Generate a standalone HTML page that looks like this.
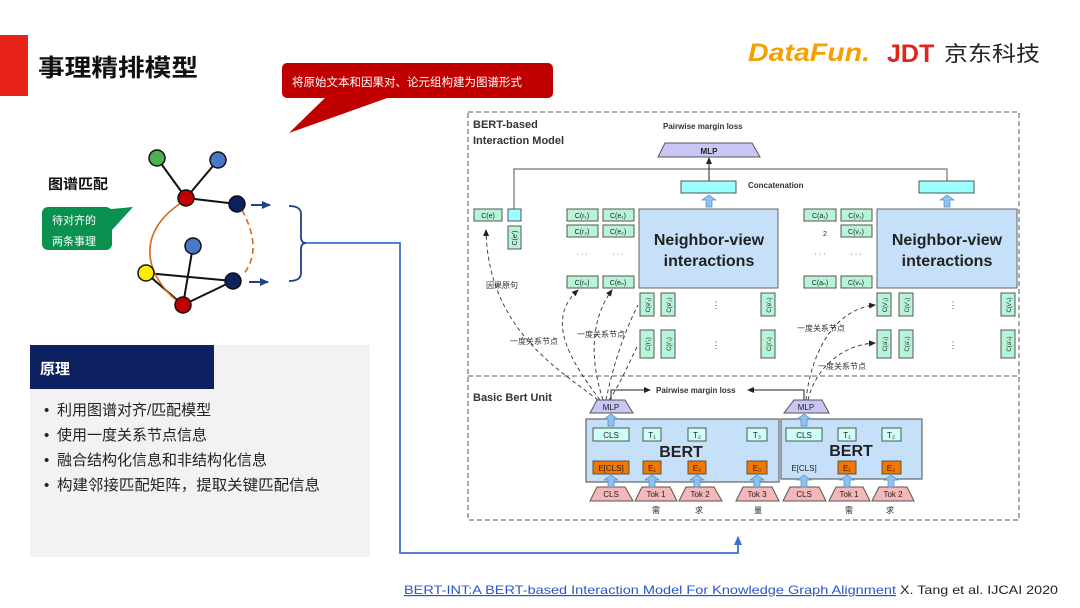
<!DOCTYPE html>
<html><head><meta charset="utf-8">
<style>
html,body{margin:0;padding:0;background:#fff;}
svg{display:block;font-family:"Liberation Sans","Noto Sans CJK SC",sans-serif;}
</style></head><body>
<svg width="1080" height="608" viewBox="0 0 1080 608" xmlns="http://www.w3.org/2000/svg">
<defs>
<marker id="ah" markerWidth="8" markerHeight="8" refX="6" refY="4" orient="auto" markerUnits="userSpaceOnUse"><path d="M0,1 L7,4 L0,7 z" fill="#222"/></marker>
<marker id="bh" markerWidth="10" markerHeight="10" refX="8" refY="5" orient="auto" markerUnits="userSpaceOnUse"><path d="M0,1 L9,5 L0,9 z" fill="#1f3f8f"/></marker>
<marker id="lh" markerWidth="10" markerHeight="10" refX="8" refY="5" orient="auto" markerUnits="userSpaceOnUse"><path d="M0,1 L9,5 L0,9 z" fill="#3d6fd0"/></marker>
<g id="barr"><path d="M-3,12 L-3,5 L-7,5 L0,0 L7,5 L3,5 L3,12 z" fill="#8ec2f0" stroke="#5588bb" stroke-width="0.7"/></g>
</defs>

<!-- title -->
<rect x="0" y="35" width="28" height="61" fill="#e8231c"/>
<text x="38" y="76" font-size="24" font-weight="bold" fill="#111" textLength="160" lengthAdjust="spacingAndGlyphs">事理精排模型</text>

<!-- red callout -->
<rect x="282" y="63" width="271" height="35" rx="5" fill="#c00000"/>
<polygon points="327,96 393,96 289,133" fill="#c00000"/>
<text x="292" y="86" font-size="11.5" fill="#fff">将原始文本和因果对、论元组构建为图谱形式</text>

<!-- logos -->
<text x="748" y="61" font-size="25" font-weight="bold" font-style="italic" fill="#f5a000" textLength="122" lengthAdjust="spacingAndGlyphs">DataFun.</text>
<text x="887" y="62" font-size="25" font-weight="bold" fill="#e1251b">JDT</text>
<text x="944" y="61" font-size="21" fill="#222" textLength="96" lengthAdjust="spacingAndGlyphs">京东科技</text>

<!-- graph -->
<text x="48" y="189" font-size="14" font-weight="bold" fill="#111" textLength="60" lengthAdjust="spacingAndGlyphs">图谱匹配</text>
<rect x="42" y="207" width="70" height="43" rx="6" fill="#0a9150"/>
<polygon points="100,210 112,230 133,207" fill="#0a9150"/>
<text x="52" y="224" font-size="11" fill="#fff">待对齐的</text>
<text x="52" y="245" font-size="11" fill="#fff">两条事理</text>

<g stroke="#111" stroke-width="2">
<line x1="157" y1="158" x2="186" y2="198"/>
<line x1="218" y1="160" x2="186" y2="198"/>
<line x1="186" y1="198" x2="237" y2="204"/>
<line x1="193" y1="246" x2="183" y2="305"/>
<line x1="146" y1="273" x2="233" y2="281"/>
<line x1="146" y1="273" x2="183" y2="305"/>
<line x1="233" y1="281" x2="183" y2="305"/>
</g>
<path d="M181,203 C140,230 140,270 178,302" fill="none" stroke="#d46a1a" stroke-width="1.6"/>
<path d="M242,210 C258,240 255,260 243,275" fill="none" stroke="#d46a1a" stroke-width="1.6" stroke-dasharray="6,4"/>
<g stroke="#111" stroke-width="1.5">
<circle cx="157" cy="158" r="8" fill="#4caf50"/>
<circle cx="218" cy="160" r="8" fill="#4a78c8"/>
<circle cx="186" cy="198" r="8" fill="#c00000"/>
<circle cx="237" cy="204" r="8" fill="#0d2060"/>
<circle cx="193" cy="246" r="8" fill="#4a78c8"/>
<circle cx="146" cy="273" r="8" fill="#ffee00"/>
<circle cx="233" cy="281" r="8" fill="#0d2060"/>
<circle cx="183" cy="305" r="8" fill="#c00000"/>
</g>
<line x1="251" y1="205" x2="270" y2="205" stroke="#1f3f8f" stroke-width="2" marker-end="url(#bh)"/>
<line x1="249" y1="282" x2="268" y2="282" stroke="#1f3f8f" stroke-width="2" marker-end="url(#bh)"/>
<path d="M289,206 Q301,206 301,214 L301,237 Q301,243 306,243 Q301,243 301,249 L301,273 Q301,281 289,281" fill="none" stroke="#1f3f8f" stroke-width="1.8"/>
<polyline points="306,243 400,243 400,553 738,553 738,537" fill="none" stroke="#3d6fd0" stroke-width="1.8" marker-end="url(#lh)"/>

<!-- left principle box -->
<rect x="30" y="345" width="340" height="212" fill="#f2f2f2"/>
<rect x="30" y="345" width="184" height="44" fill="#0d2060"/>
<text x="40" y="374" font-size="15" font-weight="bold" fill="#fff">原理</text>
<g font-size="15" fill="#222">
<text x="44" y="415">•</text><text x="57" y="415">利用图谱对齐/匹配模型</text>
<text x="44" y="440">•</text><text x="57" y="440">使用一度关系节点信息</text>
<text x="44" y="465">•</text><text x="57" y="465">融合结构化信息和非结构化信息</text>
<text x="44" y="490">•</text><text x="57" y="490" textLength="263" lengthAdjust="spacingAndGlyphs">构建邻接匹配矩阵，提取关键匹配信息</text>
</g>

<!-- diagram frame -->
<rect x="468" y="112" width="551" height="408" fill="none" stroke="#555" stroke-dasharray="5,3" stroke-width="1"/>
<line x1="468" y1="376" x2="1019" y2="376" stroke="#555" stroke-dasharray="5,3"/>
<text x="473" y="128" font-size="11" font-weight="bold" fill="#333">BERT-based</text>
<text x="473" y="144" font-size="11" font-weight="bold" fill="#333">Interaction Model</text>
<text x="663" y="129" font-size="8" font-weight="bold" fill="#333">Pairwise margin loss</text>
<polygon points="665,143 752,143 760,157 658,157" fill="#c9c6f5" stroke="#555"/>
<text x="709" y="154" font-size="8" font-weight="bold" text-anchor="middle" fill="#222">MLP</text>
<polyline points="514,209 514,169 947,169 947,181" fill="none" stroke="#555"/>
<line x1="709" y1="181" x2="709" y2="158" stroke="#222" marker-end="url(#ah)"/>
<rect x="681" y="181" width="55" height="12" fill="#99ffff" stroke="#555"/>
<rect x="919" y="181" width="55" height="12" fill="#99ffff" stroke="#555"/>
<text x="748" y="188" font-size="8" font-weight="bold" fill="#333">Concatenation</text>
<use href="#barr" x="709" y="195"/>
<use href="#barr" x="947" y="195"/>

<g font-size="7" fill="#222" text-anchor="middle">
<rect x="474" y="209" width="28" height="12" fill="#b8f5d8" stroke="#555"/><text x="488" y="218">C(e)</text>
<rect x="508" y="209" width="13" height="12" fill="#99ffff" stroke="#555"/>
<rect x="508" y="226" width="13" height="23" fill="#b8f5d8" stroke="#555"/><text transform="translate(517,238) rotate(-90)">C(e')</text>

<rect x="567" y="209" width="31" height="12" fill="#b8f5d8" stroke="#555"/><text x="582" y="218">C(r₁)</text>
<rect x="603" y="209" width="31" height="12" fill="#b8f5d8" stroke="#555"/><text x="618" y="218">C(e₁)</text>
<rect x="567" y="225" width="31" height="12" fill="#b8f5d8" stroke="#555"/><text x="582" y="234">C(r₂)</text>
<rect x="603" y="225" width="31" height="12" fill="#b8f5d8" stroke="#555"/><text x="618" y="234">C(e₂)</text>
<text x="582" y="256">· · ·</text><text x="618" y="256">· · ·</text>
<rect x="567" y="276" width="31" height="12" fill="#b8f5d8" stroke="#555"/><text x="582" y="285">C(rₙ)</text>
<rect x="603" y="276" width="31" height="12" fill="#b8f5d8" stroke="#555"/><text x="618" y="285">C(eₙ)</text>

<rect x="804" y="209" width="32" height="12" fill="#b8f5d8" stroke="#555"/><text x="820" y="218">C(a₁)</text>
<rect x="841" y="209" width="31" height="12" fill="#b8f5d8" stroke="#555"/><text x="856" y="218">C(v₁)</text>
<text x="825" y="236">2</text>
<rect x="841" y="225" width="31" height="12" fill="#b8f5d8" stroke="#555"/><text x="856" y="234">C(v₂)</text>
<text x="820" y="256">· · ·</text><text x="856" y="256">· · ·</text>
<rect x="804" y="276" width="32" height="12" fill="#b8f5d8" stroke="#555"/><text x="820" y="285">C(aₙ)</text>
<rect x="841" y="276" width="31" height="12" fill="#b8f5d8" stroke="#555"/><text x="856" y="285">C(vₙ)</text>
</g>

<rect x="639" y="209" width="139" height="79" fill="#c5e0f8" stroke="#666"/>
<text x="709" y="245" font-size="16" font-weight="bold" text-anchor="middle" fill="#222">Neighbor-view</text>
<text x="709" y="266" font-size="16" font-weight="bold" text-anchor="middle" fill="#222">interactions</text>
<rect x="877" y="209" width="140" height="79" fill="#c5e0f8" stroke="#666"/>
<text x="947" y="245" font-size="16" font-weight="bold" text-anchor="middle" fill="#222">Neighbor-view</text>
<text x="947" y="266" font-size="16" font-weight="bold" text-anchor="middle" fill="#222">interactions</text>

<g fill="#b8f5d8" stroke="#555">
<rect x="640" y="293" width="14" height="23"/><rect x="661" y="293" width="14" height="23"/><rect x="761" y="293" width="14" height="23"/>
<rect x="640" y="330" width="14" height="28"/><rect x="661" y="330" width="14" height="28"/><rect x="761" y="330" width="14" height="28"/>
<rect x="877" y="293" width="14" height="23"/><rect x="899" y="293" width="14" height="23"/><rect x="1001" y="293" width="14" height="23"/>
<rect x="877" y="330" width="14" height="28"/><rect x="899" y="330" width="14" height="28"/><rect x="1001" y="330" width="14" height="28"/>
</g>
<g font-size="6" fill="#222" text-anchor="middle">
<text transform="translate(650,305) rotate(-90)">C(e'₁)</text><text transform="translate(671,305) rotate(-90)">C(e'₂)</text><text transform="translate(771,305) rotate(-90)">C(e'ₙ)</text>
<text transform="translate(650,344) rotate(-90)">C(r'₁)</text><text transform="translate(671,344) rotate(-90)">C(r'₂)</text><text transform="translate(771,344) rotate(-90)">C(r'ₙ)</text>
<text transform="translate(887,305) rotate(-90)">C(v'₁)</text><text transform="translate(909,305) rotate(-90)">C(v'₂)</text><text transform="translate(1011,305) rotate(-90)">C(v'ₙ)</text>
<text transform="translate(887,344) rotate(-90)">C(a'₁)</text><text transform="translate(909,344) rotate(-90)">C(a'₂)</text><text transform="translate(1011,344) rotate(-90)">C(a'ₙ)</text>
</g>
<g font-size="9" fill="#444" text-anchor="middle">
<text x="716" y="308">⋮</text><text x="716" y="348">⋮</text><text x="953" y="308">⋮</text><text x="953" y="348">⋮</text>
</g>

<g font-size="8" fill="#333">
<text x="486" y="288">因果原句</text>
<text x="510" y="344">一度关系节点</text>
<text x="577" y="337">一度关系节点</text>
<text x="797" y="331">一度关系节点</text>
<text x="818" y="369">一度关系节点</text>
</g>
<g fill="none" stroke="#333" stroke-dasharray="4,3" stroke-width="0.9">
<path d="M598,400 C560,370 488,330 486,230" marker-end="url(#ah)"/>
<path d="M600,400 C570,360 545,320 578,290" marker-end="url(#ah)"/>
<path d="M603,400 C590,360 590,320 612,290" marker-end="url(#ah)"/>
<path d="M606,400 C610,380 620,340 638,305"/>
<path d="M609,400 C620,385 630,360 638,345"/>
<path d="M806,400 C810,360 830,310 875,305" marker-end="url(#ah)"/>
<path d="M808,400 C815,370 840,345 875,343" marker-end="url(#ah)"/>
</g>

<!-- Basic Bert Unit -->
<text x="473" y="401" font-size="11" font-weight="bold" fill="#333">Basic Bert Unit</text>
<polyline points="611,400 611,390 650,390" fill="none" stroke="#222" marker-end="url(#ah)"/>
<text x="656" y="393" font-size="8" font-weight="bold" fill="#333">Pairwise margin loss</text>
<polyline points="804,400 804,390 748,390" fill="none" stroke="#222" marker-end="url(#ah)"/>
<polygon points="597,400 625,400 633,413 590,413" fill="#c9c6f5" stroke="#555"/>
<text x="611" y="410" font-size="8" text-anchor="middle" fill="#222">MLP</text>
<polygon points="794,400 822,400 829,413 784,413" fill="#c9c6f5" stroke="#555"/>
<text x="806" y="410" font-size="8" text-anchor="middle" fill="#222">MLP</text>

<rect x="586" y="419" width="193" height="63" fill="#c5e0f8" stroke="#666" stroke-width="1.2"/>
<rect x="781" y="419" width="141" height="60" fill="#c5e0f8" stroke="#666" stroke-width="1.2"/>
<text x="681" y="457" font-size="16" font-weight="bold" text-anchor="middle" fill="#222">BERT</text>
<text x="851" y="456" font-size="16" font-weight="bold" text-anchor="middle" fill="#222">BERT</text>

<g font-size="8" fill="#222" text-anchor="middle">
<rect x="593" y="428" width="36" height="13" fill="#ccfff5" stroke="#555"/><text x="611" y="438">CLS</text>
<rect x="643" y="428" width="18" height="13" fill="#ccfff5" stroke="#555"/><text x="652" y="438">T₁</text>
<rect x="688" y="428" width="18" height="13" fill="#ccfff5" stroke="#555"/><text x="697" y="438">T₂</text>
<rect x="747" y="428" width="20" height="13" fill="#ccfff5" stroke="#555"/><text x="757" y="438">T₃</text>
<rect x="786" y="428" width="36" height="13" fill="#ccfff5" stroke="#555"/><text x="804" y="438">CLS</text>
<rect x="838" y="428" width="18" height="13" fill="#ccfff5" stroke="#555"/><text x="847" y="438">T₁</text>
<rect x="882" y="428" width="19" height="13" fill="#ccfff5" stroke="#555"/><text x="891" y="438">T₂</text>

<rect x="593" y="461" width="36" height="13" fill="#f07800" stroke="#555"/><text x="611" y="471">E[CLS]</text>
<rect x="643" y="461" width="18" height="13" fill="#f07800" stroke="#555"/><text x="652" y="471">E₁</text>
<rect x="688" y="461" width="18" height="13" fill="#f07800" stroke="#555"/><text x="697" y="471">E₂</text>
<rect x="747" y="461" width="20" height="13" fill="#f07800" stroke="#555"/><text x="757" y="471">E₃</text>
<text x="804" y="471">E[CLS]</text>
<rect x="838" y="461" width="18" height="13" fill="#f07800" stroke="#555"/><text x="847" y="471">E₁</text>
<rect x="882" y="461" width="19" height="13" fill="#f07800" stroke="#555"/><text x="891" y="471">E₂</text>

<polygon points="597,487 625,487 633,501 590,501" fill="#f5b8b8" stroke="#555"/><text x="611" y="497">CLS</text>
<polygon points="642,487 670,487 677,501 635,501" fill="#f5b8b8" stroke="#555"/><text x="656" y="497">Tok 1</text>
<polygon points="686,487 714,487 722,501 679,501" fill="#f5b8b8" stroke="#555"/><text x="700" y="497">Tok 2</text>
<polygon points="743,487 772,487 779,501 736,501" fill="#f5b8b8" stroke="#555"/><text x="757" y="497">Tok 3</text>
<polygon points="790,487 819,487 826,501 783,501" fill="#f5b8b8" stroke="#555"/><text x="804" y="497">CLS</text>
<polygon points="836,487 863,487 870,501 829,501" fill="#f5b8b8" stroke="#555"/><text x="849" y="497">Tok 1</text>
<polygon points="879,487 907,487 914,501 872,501" fill="#f5b8b8" stroke="#555"/><text x="893" y="497">Tok 2</text>

<text x="656" y="513">需</text><text x="699" y="513">求</text><text x="758" y="513">量</text>
<text x="849" y="513">需</text><text x="890" y="513">求</text>
</g>
<use href="#barr" x="611" y="414"/><use href="#barr" x="804" y="414"/>
<use href="#barr" x="611" y="475"/><use href="#barr" x="652" y="475"/><use href="#barr" x="697" y="475"/><use href="#barr" x="757" y="475"/>
<use href="#barr" x="804" y="475"/><use href="#barr" x="847" y="475"/><use href="#barr" x="891" y="475"/>

<!-- citation -->
<text x="404" y="594" font-size="12" fill="#2a55c8" text-decoration="underline" textLength="492" lengthAdjust="spacingAndGlyphs">BERT-INT:A BERT-based Interaction Model For Knowledge Graph Alignment</text>
<text x="900" y="594" font-size="12" fill="#222" textLength="158" lengthAdjust="spacingAndGlyphs">X. Tang et al.  IJCAI 2020</text>
</svg>
</body></html>
